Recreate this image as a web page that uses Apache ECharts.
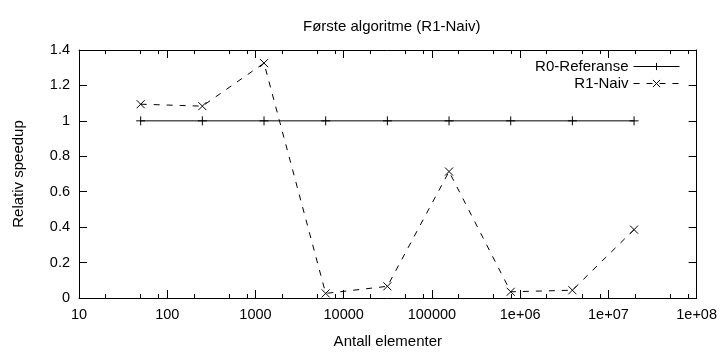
<!DOCTYPE html>
<html>
<head>
<meta charset="utf-8">
<script src="https://cdn.jsdelivr.net/npm/echarts@6/dist/echarts.min.js"></script>
<style>html,body{margin:0;padding:0;background:#fff}#c{width:720px;height:354px}</style>
</head>
<body>
<div id="c"></div>
<script>
const xValues = [50, 250, 1250, 6250, 31250, 156250, 781250, 3906250, 19531250];
const r0Values = [1, 1, 1, 1, 1, 1, 1, 1, 1];
const r1Values = [1.094, 1.083, 1.326, 0.026, 0.066, 0.714, 0.035, 0.044, 0.386];
const xTickLabels = ['10', '100', '1000', '10000', '100000', '1e+06', '1e+07', '1e+08'];
const xMinorTicks = [20, 50, 80, 200, 500, 800, 2000, 5000, 8000, 2e4, 5e4, 8e4, 2e5, 5e5, 8e5, 2e6, 5e6, 8e6, 2e7, 5e7, 8e7];
const seriesNames = ['R0-Referanse', 'R1-Naiv'];

const FONT = 'Liberation Sans';
const TICK_FS = 14.5;
const TEXT_FS = 15;
const plusSym = 'path://M0,5L10,5M5,0L5,10';
const crossSym = 'path://M0,0L10,10M10,0L0,10';

function logAxis(pos, major, showLabel, extra) {
  return Object.assign({
    type: 'log', logBase: 10, min: 10, max: 1e8, position: pos,
    interval: 1,
    axisLine: { show: major, lineStyle: { color: '#000', width: 1 } },
    axisTick: major
      ? { show: true, inside: true, length: 8, lineStyle: { color: '#000' } }
      : { show: true, inside: true, length: 4, customValues: xMinorTicks, lineStyle: { color: '#000' } },
    axisLabel: showLabel
      ? { show: true, margin: 9, color: '#000', fontFamily: FONT, fontSize: TICK_FS,
          formatter: (v, i) => xTickLabels[i] !== undefined ? xTickLabels[i] : '' }
      : { show: false },
    splitLine: { show: false },
    minorTick: { show: false }
  }, extra || {});
}

const chart = echarts.init(document.getElementById('c'), null, { renderer: 'canvas' });
chart.setOption({
  animation: false,
  backgroundColor: '#fff',
  title: {
    text: 'Første algoritme (R1-Naiv)',
    left: 298, top: 14,
    textStyle: { fontFamily: FONT, fontSize: TEXT_FS, fontWeight: 'normal', color: '#000' }
  },
  grid: { left: 79, right: 23, top: 50, bottom: 51, containLabel: false },
  legend: {
    orient: 'vertical', right: 40, top: 59, align: 'right',
    padding: 0, itemGap: 2, itemWidth: 46, itemHeight: 9,
    lineStyle: { width: 1 },
    itemStyle: { borderWidth: 1 },
    textStyle: { fontFamily: FONT, fontSize: TEXT_FS, color: '#000' },
    data: seriesNames
  },
  xAxis: [
    logAxis('bottom', true, true, {
      name: 'Antall elementer', nameLocation: 'middle', nameGap: 36,
      nameTextStyle: { fontFamily: FONT, fontSize: TEXT_FS, color: '#000' }
    }),
    logAxis('bottom', false, false),
    logAxis('top', true, false),
    logAxis('top', false, false)
  ],
  yAxis: [
    {
      type: 'value', min: 0, max: 1.4, interval: 0.2, position: 'left',
      name: 'Relativ speedup', nameLocation: 'middle', nameGap: 53, nameRotate: 90,
      nameTextStyle: { fontFamily: FONT, fontSize: TEXT_FS, color: '#000' },
      axisLine: { show: true, lineStyle: { color: '#000' } },
      axisTick: { show: true, inside: true, length: 8, lineStyle: { color: '#000' } },
      axisLabel: { margin: 9, color: '#000', fontFamily: FONT, fontSize: TICK_FS },
      splitLine: { show: false }
    },
    {
      type: 'value', min: 0, max: 1.4, interval: 0.2, position: 'right',
      axisLine: { show: true, lineStyle: { color: '#000' } },
      axisTick: { show: true, inside: true, length: 8, lineStyle: { color: '#000' } },
      axisLabel: { show: false },
      splitLine: { show: false }
    }
  ],
  series: [
    {
      name: seriesNames[0], type: 'line', xAxisIndex: 0, yAxisIndex: 0,
      data: xValues.map((x, i) => [x, r0Values[i]]),
      symbol: plusSym, symbolSize: 9, showSymbol: true,
      lineStyle: { color: '#000', width: 1, type: 'solid' },
      itemStyle: { color: '#000', borderColor: '#000', borderWidth: 1 },
      emphasis: { disabled: true }
    },
    {
      name: seriesNames[1], type: 'line', xAxisIndex: 0, yAxisIndex: 0,
      data: xValues.map((x, i) => [x, r1Values[i]]),
      symbol: crossSym, symbolSize: 8, showSymbol: true,
      lineStyle: { color: '#000', width: 1, type: [6, 7] },
      itemStyle: { color: '#000', borderColor: '#000', borderWidth: 1 },
      emphasis: { disabled: true }
    }
  ]
});
</script>
</body>
</html>
